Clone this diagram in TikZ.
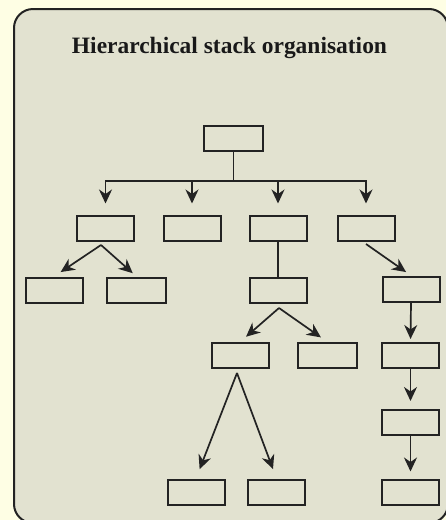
\documentclass[tikz,border=0pt]{standalone}
\usepackage{fontspec}
\setmainfont{Liberation Serif}
\usetikzlibrary{arrows.meta}
\definecolor{cream}{RGB}{254,254,228}
\definecolor{stipple}{RGB}{226,226,208}
\definecolor{ink}{RGB}{35,35,35}
\tikzset{
  >={Stealth[length=14pt,width=13pt,inset=4.5pt]},
  stackbox/.style={draw=ink, line width=2pt, minimum width=57pt, minimum height=25pt, inner sep=0pt},
  conn/.style={draw=ink, line width=1.7pt},
  arr/.style={conn, ->},
}
\begin{document}
\begin{tikzpicture}[x=1pt,y=-1pt]
\useasboundingbox (0,0) rectangle (446,520);
\fill[cream] (0,0) rectangle (446,520);
\begin{scope}
\clip (0,0) rectangle (446,520);
\draw[draw=ink, line width=2pt, fill=stipple, rounded corners=19pt] (14,9) rectangle (448,523);
\end{scope}
\node[font=\bfseries, text=black!90, inner sep=0pt] (title) at (229.5,48) {\resizebox{315pt}{!}{Hierarchical stack organisation}};
% boxes
\node[stackbox, minimum width=59pt] (root) at (233.5,138.5) {};
\node[stackbox] (A) at (105.5,228) {};
\node[stackbox] (B) at (192,228) {};
\node[stackbox] (C) at (278,228) {};
\node[stackbox] (D) at (366,228) {};
\node[stackbox] (A1) at (54,290) {};
\node[stackbox, minimum width=59pt] (A2) at (136.5,290) {};
\node[stackbox] (C1) at (278,290) {};
\node[stackbox] (D1) at (411,289) {};
\node[stackbox] (C2) at (240,355.5) {};
\node[stackbox, minimum width=59pt] (C3) at (327.5,355.5) {};
\node[stackbox] (D2) at (410.5,355.5) {};
\node[stackbox] (D3) at (410.5,422.5) {};
\node[stackbox] (E1) at (196,492) {};
\node[stackbox] (E2) at (276.5,492) {};
\node[stackbox] (D4) at (410.5,492) {};
% bus
\coordinate (bus) at (0,181);
\coordinate (bA) at (A.north |- bus);
\coordinate (bB) at (B.north |- bus);
\coordinate (bC) at (C.north |- bus);
\coordinate (bD) at (D.north |- bus);
\draw[conn] (root.south) -- (root.south |- bus);
\draw[conn, line cap=rect] (bA) -- (bD);
\draw[arr, shorten >=11pt] (bA) -- (A.north);
\draw[arr, shorten >=11pt] (bB) -- (B.north);
\draw[arr, shorten >=11pt] (bC) -- (C.north);
\draw[arr, shorten >=11pt] (bD) -- (D.north);
% A branch
\coordinate (a0) at (101,245);
\draw[arr, shorten >=8pt] (a0) -- (A1.north);
\draw[arr, shorten >=5pt] (a0) -- (A2.north);
% C branch
\draw[conn] (C.south) -- (C1.north);
\coordinate (c0) at (279,308);
\draw[arr, shorten >=8pt] (c0) -- (C2.north);
\draw[arr, shorten >=8pt] (c0) -- (C3.north);
\coordinate (c2) at (237,373);
\draw[arr, shorten >=10pt] (c2) -- (E1.north);
\draw[arr, shorten >=10pt] (c2) -- (E2.north);
% D branch
\coordinate (d0) at (366,244);
\draw[arr, shorten >=6pt] (d0) -- (D1.north);
\draw[arr, shorten >=3pt] (D1.south) -- (D2.north);
\draw[arr, shorten >=8pt] (D2.south) -- (D3.north);
\draw[arr, shorten >=7pt] (D3.south) -- (D4.north);
\end{tikzpicture}
\end{document}
